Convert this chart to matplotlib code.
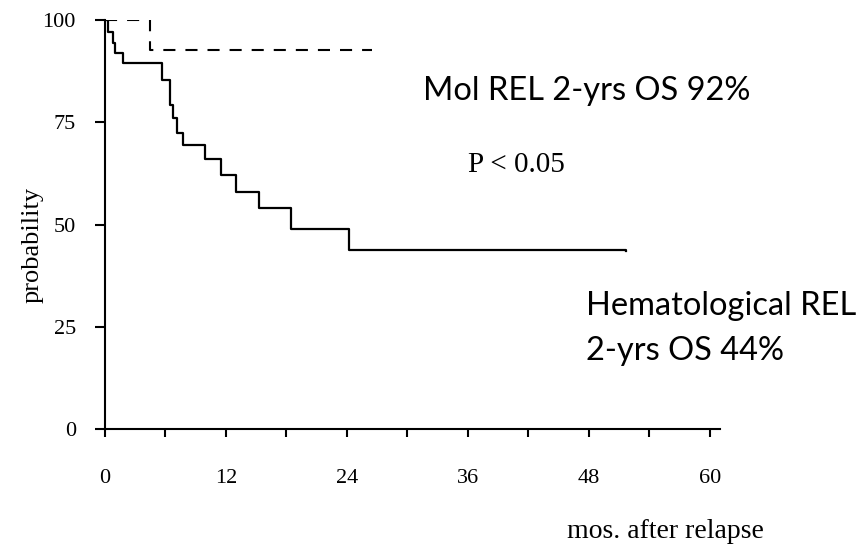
import numpy as np
import matplotlib
matplotlib.use('Agg')
import matplotlib.pyplot as plt

# Kaplan-Meier steps (months, % surviving)
hema_months = [0, 0.33, 0.76, 0.99, 1.82, 5.62, 6.45, 6.78, 7.11, 7.71,
               9.92, 11.48, 12.97, 15.28, 18.42, 24.2, 51.7]
hema_surv = [100, 97.1, 94.3, 92.0, 89.4, 85.3, 79.2, 76.0, 72.3, 69.4,
             66.0, 62.1, 57.9, 54.0, 48.8, 43.8, 43.6]

mol_months = [0, 4.46, 26.5]
mol_surv = [100, 92.7, 92.7]

x_ticks = [0, 12, 24, 36, 48, 60]
x_minor = [6, 18, 30, 42, 54]
y_ticks = [0, 25, 50, 75, 100]

serif = ['Liberation Serif', 'DejaVu Serif']
sans = ['Lato', 'DejaVu Sans']

W, H = 861, 545
fig = plt.figure(figsize=(W / 100, H / 100), dpi=100)
ax = fig.add_axes([105 / W, 116 / H, 615 / W, 409 / H])

ax.step(hema_months, hema_surv, where='post', color='black', lw=1.6)
ax.step(mol_months, mol_surv, where='post', color='black', lw=1.5,
        dashes=(5.8, 4.8))

ax.set_xlim(0, 61)
ax.set_ylim(0, 100)
ax.spines['top'].set_visible(False)
ax.spines['right'].set_visible(False)
ax.spines['left'].set_linewidth(1.5)
ax.spines['bottom'].set_linewidth(1.5)

ax.set_xticks(x_ticks)
ax.set_xticks(x_minor, minor=True)
ax.set_yticks(y_ticks)
ax.set_xticklabels([str(t) for t in x_ticks], family=serif, fontsize=16)
ax.set_yticklabels([str(t) for t in y_ticks], family=serif, fontsize=16)
ax.tick_params(axis='x', which='both', direction='out', length=6, width=1.5, pad=23)
ax.tick_params(axis='y', direction='out', length=7, width=1.5, pad=14)

ax.set_ylabel('probability', family=serif, fontsize=19)
ax.yaxis.set_label_coords(-0.100, 0.45)

fig.text(567 / W, 1 - 538 / H, 'mos. after relapse', family=serif, fontsize=20,
         va='baseline', ha='left')

fig.text(423 / W, 1 - 100 / H, 'Mol REL 2-yrs OS 92%', family=sans, fontsize=23.5,
         va='baseline', ha='left')
fig.text(468 / W, 1 - 172 / H, 'P < 0.05', family=serif, fontsize=21,
         va='baseline', ha='left')
fig.text(586 / W, 1 - 315 / H, 'Hematological REL', family=sans, fontsize=23.5,
         va='baseline', ha='left')
fig.text(586 / W, 1 - 360 / H, '2-yrs OS 44%', family=sans, fontsize=23.5,
         va='baseline', ha='left')

fig.savefig('out.png', dpi=100)
